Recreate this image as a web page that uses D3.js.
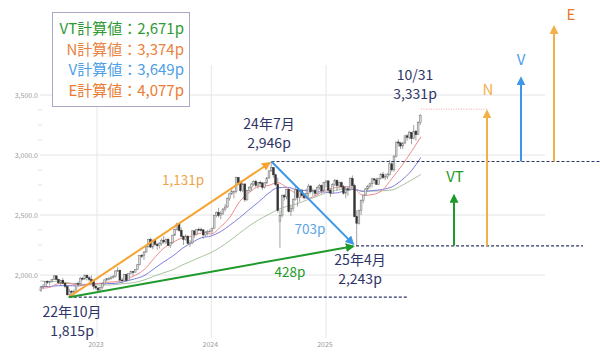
<!DOCTYPE html>
<html><head><meta charset="utf-8">
<script src="https://cdn.jsdelivr.net/npm/d3@7"></script>
<style>body{margin:0;background:#fff}svg{display:block}</style>
</head><body><svg id="c" width="600" height="357"></svg>
<script>
// ---------- DATA ----------
const firstWeek = "2022-07-04"; // weekly candles, one per week from this Monday
const ohlc = [
[1870,1905,1860,1899],[1899,1925,1885,1906],[1906,1950,1900,1946],[1946,1955,1925,1940],
[1940,1952,1915,1947],[1947,1968,1935,1964],[1964,2000,1960,1993],[1993,1995,1955,1964],
[1964,1968,1925,1935],[1935,1960,1915,1956],[1956,1975,1925,1932],[1932,1940,1890,1906],
[1906,1912,1828,1835],[1835,1885,1815,1864],[1864,1875,1835,1858],[1858,1880,1840,1864],
[1864,1935,1860,1929],[1929,1945,1905,1928],[1928,1985,1915,1972],[1972,1985,1955,1966],
[1966,2005,1960,1998],[1998,2005,1955,1977],[1977,1990,1945,1963],[1963,1995,1940,1946],
[1946,1950,1880,1907],[1907,1915,1880,1892],
[1892,1895,1852,1875],[1875,1905,1865,1898],[1898,1935,1880,1926],[1926,1962,1920,1959],
[1959,1975,1945,1970],[1970,1985,1955,1971],[1971,1990,1960,1983],[1983,2000,1970,1988],
[1988,2038,1980,2034],[2034,2067,2025,2039],[2039,2045,1940,1958],[1958,1980,1930,1955],
[1955,2010,1950,2004],[2004,2010,1945,1954],[1954,2015,1950,2012],[2012,2035,2005,2028],
[2028,2035,1995,2024],[2024,2050,2020,2047],[2047,2090,2040,2085],[2085,2165,2080,2162],
[2162,2175,2140,2161],[2161,2200,2125,2192],[2192,2240,2185,2235],[2235,2300,2230,2296],
[2296,2310,2225,2233],[2233,2295,2215,2288],[2288,2300,2240,2256],[2256,2270,2210,2244],
[2244,2275,2220,2262],[2262,2305,2245,2290],[2290,2325,2260,2275],[2275,2305,2255,2297],
[2297,2310,2240,2247],[2247,2275,2225,2268],[2268,2335,2260,2332],[2332,2385,2325,2379],
[2379,2435,2370,2426],[2426,2430,2360,2372],[2372,2395,2315,2323],[2323,2330,2250,2297],
[2297,2340,2285,2324],[2324,2330,2255,2262],[2262,2290,2235,2268],[2268,2375,2255,2368],
[2368,2370,2310,2337],[2337,2385,2330,2380],[2380,2395,2365,2378],[2378,2395,2360,2376],
[2376,2380,2300,2334],[2334,2365,2320,2354],[2354,2375,2330,2363],[2363,2380,2355,2366],
[2366,2395,2345,2386],[2386,2500,2385,2496],[2496,2530,2480,2521],[2521,2560,2480,2497],
[2497,2535,2465,2514],[2514,2560,2500,2549],[2549,2590,2530,2567],[2567,2645,2560,2636],
[2636,2685,2620,2677],[2677,2720,2665,2694],[2694,2705,2640,2697],[2697,2820,2680,2813],
[2813,2815,2750,2769],[2769,2785,2690,2704],[2704,2770,2690,2758],[2758,2765,2610,2626],
[2626,2710,2620,2703],[2703,2740,2690,2729],[2729,2770,2700,2758],[2758,2790,2740,2780],
[2780,2795,2730,2747],[2747,2775,2720,2772],[2772,2785,2740,2767],[2767,2775,2710,2730],
[2730,2775,2720,2767],[2767,2815,2760,2809],[2809,2875,2800,2868],[2868,2946,2860,2894],
[2894,2900,2810,2835],[2835,2845,2740,2755],[2755,2810,2520,2538],[2445,2540,2227,2494],
[2494,2670,2480,2661],[2661,2675,2620,2650],[2650,2720,2630,2713],[2713,2715,2520,2528],
[2528,2580,2490,2556],[2556,2640,2530,2628],[2628,2740,2620,2710],[2710,2715,2570,2645],
[2645,2710,2610,2702],[2702,2720,2660,2662],[2662,2680,2630,2645],[2645,2720,2640,2678],
[2678,2760,2650,2741],[2741,2750,2680,2695],[2695,2720,2660,2705],[2705,2720,2660,2680],
[2680,2740,2670,2729],[2729,2760,2710,2746],[2746,2755,2680,2701],[2701,2775,2700,2770],
[2770,2790,2730,2784],
[2784,2790,2690,2707],[2707,2720,2650,2682],[2682,2765,2675,2753],[2753,2800,2740,2789],
[2789,2795,2700,2745],[2745,2780,2720,2769],[2769,2780,2720,2735],[2735,2750,2670,2682],
[2682,2740,2640,2718],[2718,2740,2660,2710],[2710,2815,2700,2805],[2805,2830,2730,2745],
[2745,2760,2480,2486],[2486,2540,2243,2431],[2431,2545,2420,2536],[2536,2630,2500,2620],
[2620,2670,2600,2667],[2667,2725,2660,2717],[2717,2750,2700,2740],[2740,2770,2720,2760],
[2760,2810,2730,2801],[2801,2810,2760,2792],[2792,2810,2750,2756],[2756,2810,2750,2803],
[2803,2850,2795,2840],[2840,2860,2800,2812],[2812,2845,2790,2822],[2822,2850,2800,2835],
[2835,2960,2830,2927],[2927,2950,2860,2876],[2876,3000,2860,2990],[2990,3110,2980,3108],
[3108,3130,3070,3100],[3100,3110,3050,3075],[3075,3110,3050,3100],[3100,3165,3090,3160],
[3160,3175,3120,3147],[3147,3200,3130,3187],[3187,3190,3090,3138],[3138,3250,3130,3198],
[3198,3210,3120,3169],[3169,3280,3165,3269],[3269,3340,3250,3331]
];
const maDates = ["2022-07-04","2022-07-31","2022-08-31","2022-09-30","2022-10-31","2022-11-30","2022-12-31",
"2023-01-31","2023-02-28","2023-03-31","2023-04-30","2023-05-31","2023-06-30","2023-07-31","2023-08-31",
"2023-09-30","2023-10-31","2023-11-30","2023-12-31","2024-01-31","2024-02-29","2024-03-31","2024-04-30",
"2024-05-31","2024-06-30","2024-07-31","2024-08-31","2024-09-30","2024-10-31","2024-11-30","2024-12-31",
"2025-01-31","2025-02-28","2025-03-31","2025-04-30","2025-05-31","2025-06-30","2025-07-31","2025-08-31",
"2025-09-30","2025-10-31"];
const ma13 = [1890,1895,1928,1930,1916,1917,1927,1939,1943,1964,1994,2044,2132,2219,2271,2309,2322,2349,2342,2402,2481,2611,2685,2737,2745,2770,2725,2674,2638,2663,2708,2728,2737,2720,2663,2671,2707,2807,2911,3026,3152];
const ma26 = [1905,1904,1911,1912,1908,1923,1929,1928,1930,1946,1967,1994,2048,2106,2158,2221,2270,2310,2325,2362,2415,2477,2543,2609,2678,2727,2731,2710,2704,2694,2691,2683,2700,2714,2696,2704,2713,2735,2791,2867,2980];
const ma52 = [1950,1946,1947,1935,1925,1921,1917,1916,1920,1929,1937,1958,1988,2017,2044,2083,2118,2152,2187,2234,2286,2349,2407,2460,2502,2545,2573,2593,2624,2652,2684,2705,2716,2712,2700,2699,2702,2709,2746,2790,2838];

const yTicks = [2000, 2500, 3000, 3500];
const yTickLabels = ["2,000.0","2,500.0","3,000.0","3,500.0"];
const yMinorTicks = [1875,2125,2250,2375,2625,2750,2875,3125,3250,3375];
const yearTicks = ["2023-01-01","2024-01-01","2025-01-01"];
const yearLabels = ["2023","2024","2025"];

// key points
const pointDates = ["2022-10-03","2024-07-11","2025-04-07","2025-10-31"];
const pointValues = [1815, 2946, 2243, 3331];
const pointLine1 = ["22年10月","24年7月","25年4月","10/31"];
const pointLine2 = ["1,815p","2,946p","2,243p","3,331p"];
// moves
const moveLabels = ["1,131p","703p","428p"];
const moveValues = [1131, 703, 428];
// calculated targets
const calcNames = ["VT","N","V","E"];
const calcValues = [2671, 3374, 3649, 4077];
const calcBases = [2243, 2243, 2946, 2946];
const calcText = ["VT計算値：2,671p","N計算値：3,374p","V計算値：3,649p","E計算値：4,077p"];

// ---------- SCALES ----------
const P = d3.timeParse("%Y-%m-%d");
const svg = d3.select("#c");
const font = "'Noto Sans CJK JP','Noto Sans',sans-serif";
const x = d3.scaleTime().domain([P("2023-01-01"), P("2025-01-01")]).range([97, 326]);
const y = d3.scaleLinear().domain([2000, 3500]).range([275, 95]);

// ---------- GRID ----------
const g = svg.append("g");
g.selectAll(".hg").data(yTicks).join("line")
  .attr("x1", 40).attr("x2", 545).attr("y1", d => y(d)).attr("y2", d => y(d))
  .attr("stroke", "#e4e4e4").attr("stroke-width", 1);
g.selectAll(".vg").data(yearTicks).join("line")
  .attr("x1", d => x(P(d))).attr("x2", d => x(P(d))).attr("y1", y(3750)).attr("y2", 338)
  .attr("stroke", "#e6e6e6").attr("stroke-width", 1);
g.selectAll(".mt").data(yMinorTicks).join("line")
  .attr("x1", 38).attr("x2", 42).attr("y1", d => y(d)).attr("y2", d => y(d))
  .attr("stroke", "#e0e0e0");
g.selectAll(".yl").data(yTicks).join("text")
  .attr("x", 38).attr("y", d => y(d) + 2.5).attr("text-anchor", "end")
  .attr("font-family", font).attr("font-size", 7).attr("fill", "#9a9a9a")
  .text((d, i) => yTickLabels[i]);
g.selectAll(".xl").data(yearTicks).join("text")
  .attr("x", d => x(P(d)) - 1).attr("y", 347).attr("text-anchor", "middle")
  .attr("font-family", font).attr("font-size", 7).attr("fill", "#9a9a9a")
  .text((d, i) => yearLabels[i]);

// ---------- MOVING AVERAGES ----------
const maLine = vals => d3.line().curve(d3.curveMonotoneX)
  .x((d, i) => x(P(maDates[i]))).y(d => y(d))(vals);
svg.append("path").attr("d", maLine(ma52)).attr("fill", "none").attr("stroke", "#a9c4a2").attr("stroke-width", 1);
svg.append("path").attr("d", maLine(ma26)).attr("fill", "none").attr("stroke", "#7d7de0").attr("stroke-width", 1);
svg.append("path").attr("d", maLine(ma13)).attr("fill", "none").attr("stroke", "#ee8a8a").attr("stroke-width", 1);

// ---------- CANDLES ----------
const w0 = P(firstWeek);
const cg = svg.append("g");
ohlc.forEach((d, i) => {
  const cx = x(d3.timeDay.offset(w0, i * 7 + 2));
  const [o, h, l, c] = d;
  cg.append("line").attr("x1", cx).attr("x2", cx).attr("y1", y(h)).attr("y2", y(l))
    .attr("stroke", "#8a8a8a").attr("stroke-width", 0.8);
  const top = y(Math.max(o, c)), bot = y(Math.min(o, c));
  cg.append("rect").attr("x", cx - 0.9).attr("width", 1.8)
    .attr("y", top).attr("height", Math.max(0.8, bot - top))
    .attr("fill", c >= o ? "#d8d8d8" : "#333")
    .attr("stroke", c >= o ? "#777" : "#333").attr("stroke-width", 0.5);
});

// ---------- ARROW MARKERS ----------
const defs = svg.append("defs");
function marker(id, color) {
  defs.append("marker").attr("id", id).attr("viewBox", "0 0 10 10")
    .attr("refX", 8).attr("refY", 5).attr("markerWidth", 4.5).attr("markerHeight", 4.5)
    .attr("markerUnits", "strokeWidth").attr("orient", "auto")
    .append("path").attr("d", "M0,0 L10,5 L0,10 Z").attr("fill", color);
}
const cOrange = "#f5a431", cGreen = "#1f9a2a", cBlue = "#3d97e6", cE = "#f3b04a";
marker("mO", cOrange); marker("mG", cGreen); marker("mB", cBlue); marker("mE", cE);

// ---------- DASHED LEVELS ----------
const navy = "#2e3466";
const pts = pointDates.map((d, i) => [x(P(d)), y(pointValues[i])]);
const dash = (x1, x2, yy) => svg.append("line").attr("x1", x1).attr("x2", x2).attr("y1", yy).attr("y2", yy)
  .attr("stroke", navy).attr("stroke-width", 1.2).attr("stroke-dasharray", "3,2");
dash(pts[0][0], 407, pts[0][1]);
dash(pts[1][0], 600, pts[1][1]);
dash(pts[2][0], 583, pts[2][1]);

// ---------- DIAGONAL MOVES ----------
svg.append("line").attr("x1", pts[0][0]).attr("y1", pts[0][1]).attr("x2", pts[1][0] - 2).attr("y2", pts[1][1] + 1.5)
  .attr("stroke", cOrange).attr("stroke-width", 2).attr("marker-end", "url(#mO)");
svg.append("line").attr("x1", pts[0][0]).attr("y1", pts[0][1]).attr("x2", pts[2][0] - 3).attr("y2", pts[2][1] + 0.5)
  .attr("stroke", cGreen).attr("stroke-width", 2).attr("marker-end", "url(#mG)");
svg.append("line").attr("x1", pts[1][0]).attr("y1", pts[1][1]).attr("x2", pts[2][0] - 3).attr("y2", pts[2][1] - 2)
  .attr("stroke", cBlue).attr("stroke-width", 2).attr("marker-end", "url(#mB)");

const txt = (s, tx, ty, color, size, anchor = "middle") => svg.append("text")
  .attr("x", tx).attr("y", ty).attr("text-anchor", anchor).attr("fill", color)
  .attr("font-family", font).attr("font-size", size).text(s);
txt(moveLabels[0], 183, 185, "#f0a448", 13.5);
txt(moveLabels[1], 310, 234, "#5aa5e8", 13.5);
txt(moveLabels[2], 290, 277, "#1f9a2a", 13.5);

// pink dotted to N
svg.append("line").attr("x1", pts[3][0]).attr("x2", 487).attr("y1", y(calcValues[1]) - 1).attr("y2", y(calcValues[1]) - 1)
  .attr("stroke", "#f08a8a").attr("stroke-width", 0.8).attr("stroke-dasharray", "1,1.5");

// ---------- POINT LABELS (two lines) ----------
const lblPos = [[72, 317], [269, 128.5], [360, 264.5], [415, 79.5]];
pointLine1.forEach((s, i) => {
  txt(s, lblPos[i][0], lblPos[i][1], navy, 14);
  txt(pointLine2[i], lblPos[i][0], lblPos[i][1] + 19, navy, 14);
});

// ---------- TARGET ARROWS ----------
const arrowX = [454, 487, 521, 554];
const arrowCol = [cGreen, cE, cBlue, cE];
const arrowMk = ["mG", "mE", "mB", "mE"];
calcValues.forEach((v, i) => {
  svg.append("line").attr("x1", arrowX[i]).attr("x2", arrowX[i])
    .attr("y1", y(calcBases[i])).attr("y2", y(v) + 1)
    .attr("stroke", arrowCol[i]).attr("stroke-width", 2).attr("marker-end", `url(#${arrowMk[i]})`);
});
const nameCol = ["#1f9a2a", "#f3b04a", "#4a9fe6", "#e8782e"];
const namePos = [[455, 182], [488, 95], [521, 65], [571, 20]];
calcNames.forEach((s, i) => txt(s, namePos[i][0], namePos[i][1], nameCol[i], 15));

// ---------- LEGEND BOX ----------
svg.append("rect").attr("x", 52.5).attr("y", 12.5).attr("width", 137).attr("height", 94)
  .attr("fill", "#fff").attr("stroke", "#a8a8c8").attr("stroke-width", 1);
const legCol = ["#2e9a33", "#ea8240", "#4da0e6", "#e97c31"];
calcText.forEach((s, i) => txt(s, 184, 34 + i * 20.7, legCol[i], 15, "end"));
</script></body></html>
